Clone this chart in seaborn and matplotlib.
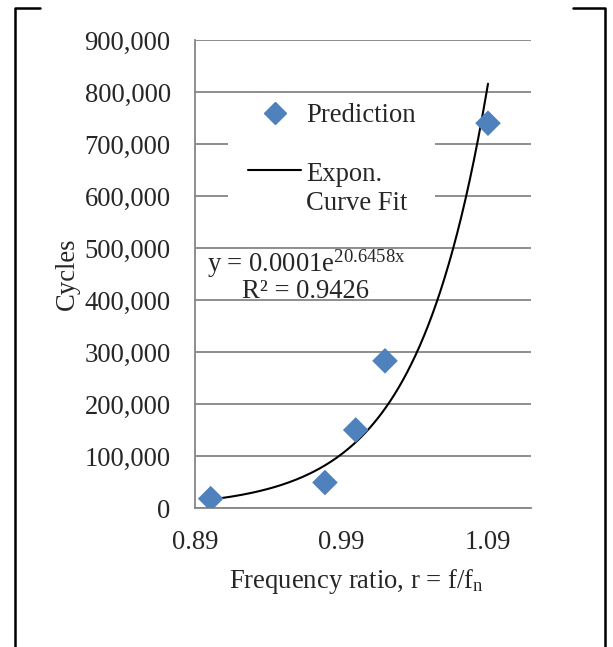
import numpy as np
import pandas as pd
import seaborn as sns
import matplotlib.pyplot as plt
from matplotlib.lines import Line2D
from matplotlib.patches import Rectangle
from matplotlib.legend_handler import HandlerLine2D
from matplotlib.ticker import FuncFormatter

# data
freq_ratio = [0.9007, 0.9787, 0.9997, 1.0197, 1.09]
cycles = [18000, 49000, 150000, 283000, 740000]
fit_a = 1.375e-4
fit_b = 20.6458
x_ticks = [0.89, 0.99, 1.09]
x_tick_labels = ["0.89", "0.99", "1.09"]
y_ticks = list(range(0, 900001, 100000))

sns.set_style("white")
plt.rcParams["font.family"] = ["Liberation Serif", "DejaVu Serif"]
plt.rcParams["mathtext.fontset"] = "custom"
plt.rcParams["mathtext.rm"] = "Liberation Serif"
plt.rcParams["mathtext.it"] = "Liberation Serif:italic"

FS = 19.2
W, H = 613, 647
fig = plt.figure(figsize=(W / 100, H / 100), dpi=100)
ax = fig.add_axes([195 / W, 1 - 508 / H, 336 / W, 468 / H])


def ax_xy(px, py):
    # pixel position in the figure -> axes fraction
    return (px - 195) / 336, (508 - py) / 468


df = pd.DataFrame({"r": freq_ratio, "cycles": cycles})
xs = np.linspace(min(freq_ratio), max(freq_ratio), 200)
fit = pd.DataFrame({"r": xs, "cycles": fit_a * np.exp(fit_b * xs)})

sns.lineplot(data=fit, x="r", y="cycles", color="black", lw=1.5, ax=ax, zorder=3)
sns.scatterplot(data=df, x="r", y="cycles", marker="D", s=170, color="#4F81BD",
                edgecolor="none", ax=ax, zorder=4)

ax.set_xlim(0.89, 0.89 + 336 / 1465)
ax.set_ylim(0, 900000)
ax.set_xticks(x_ticks)
ax.set_xticklabels(x_tick_labels)
ax.set_yticks(y_ticks)
ax.yaxis.set_major_formatter(FuncFormatter(lambda v, p: f"{int(v):,}"))
ax.tick_params(axis="both", labelsize=FS, length=0)
ax.tick_params(axis="x", pad=16)
ax.tick_params(axis="y", pad=17.5)
ax.yaxis.grid(True, color="#868686", lw=1.3)
ax.set_axisbelow(True)
for s in ["top", "right"]:
    ax.spines[s].set_visible(False)
for s in ["left", "bottom"]:
    ax.spines[s].set_color("#868686")
    ax.spines[s].set_linewidth(1.3)

ax.set_xlabel(r"Frequency ratio, r = f/f$_\mathrm{n}$", fontsize=FS)
ax.xaxis.set_label_coords(ax_xy(356, 0)[0], -0.126)
ax.set_ylabel("Cycles", fontsize=FS, labelpad=3)


class TopLineHandler(HandlerLine2D):
    # put the line next to the first row of a two-row label
    def create_artists(self, legend, orig_handle, xdescent, ydescent, width,
                       height, fontsize, trans):
        arts = super().create_artists(legend, orig_handle, xdescent, ydescent,
                                      width, height, fontsize, trans)
        for a in arts:
            a.set_ydata(np.asarray(a.get_ydata()) + 0.73 * fontsize)
        return arts


# white patch behind the legend, wider than the legend itself
x0, y0 = ax_xy(228, 236)
x1, y1 = ax_xy(435, 96)
ax.add_patch(Rectangle((x0, y0), x1 - x0, y1 - y0, transform=ax.transAxes,
                       facecolor="white", edgecolor="none", zorder=2))

handles = [
    Line2D([], [], marker="D", ls="none", color="#4F81BD", markersize=11),
    Line2D([], [], color="black", lw=1.5),
]
leg = ax.legend(handles, ["Prediction", "Expon.\nCurve Fit"], loc="upper left",
                bbox_to_anchor=ax_xy(248, 103), fontsize=FS, frameon=False,
                handlelength=2.0, handletextpad=0.17, labelspacing=1.26,
                borderpad=0, borderaxespad=0,
                handler_map={handles[1]: TopLineHandler()})
for t in leg.get_texts():
    t.set_linespacing(1.25)

ax.text(*ax_xy(306, 264), "y = 0.0001e$^{\\mathrm{20.6458x}}$",
        transform=ax.transAxes, ha="center", va="center", fontsize=FS)
ax.text(*ax_xy(306, 291), "R² = 0.9426",
        transform=ax.transAxes, ha="center", va="center", fontsize=FS)

# outer frame pieces
frame_kw = dict(color="black", lw=1.8, transform=fig.transFigure)
fig.add_artist(Line2D([15 / W, 15 / W, 40 / W], [0, 1 - 8 / H, 1 - 8 / H], **frame_kw))
fig.add_artist(Line2D([573 / W, 605 / W, 605 / W], [1 - 8 / H, 1 - 8 / H, 0], **frame_kw))

fig.savefig("out.png", dpi=100)
